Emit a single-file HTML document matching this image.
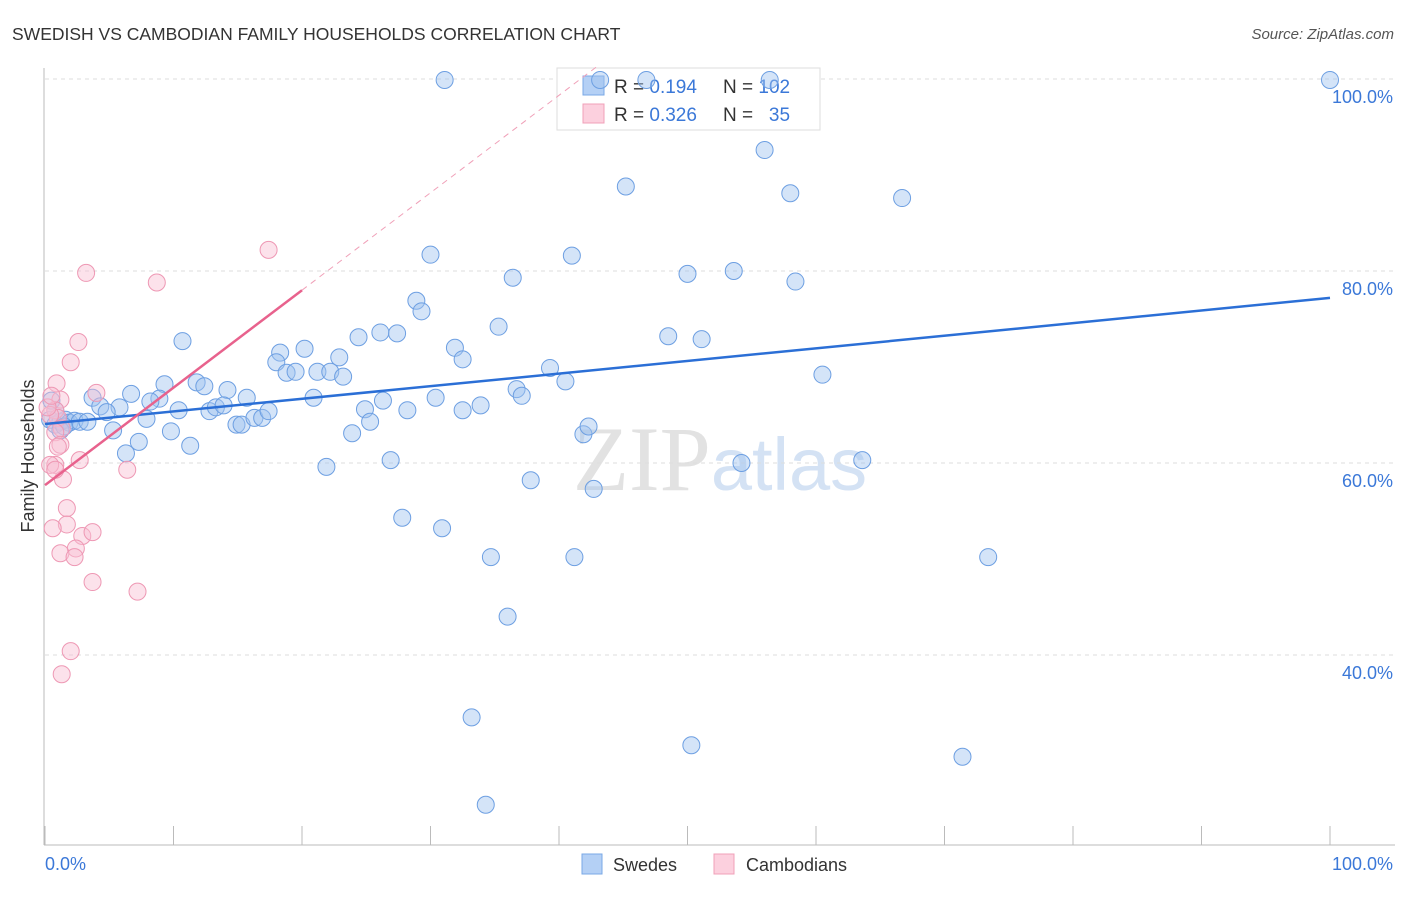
<!DOCTYPE html>
<html><head><meta charset="utf-8"><style>
body{margin:0;background:#fff;font-family:"Liberation Sans",sans-serif;}
svg text{font-family:"Liberation Sans",sans-serif;}
</style></head><body>
<svg id="chart" width="1406" height="892" xmlns="http://www.w3.org/2000/svg">
<text x="12" y="40" font-size="17.5" fill="#333">SWEDISH VS CAMBODIAN FAMILY HOUSEHOLDS CORRELATION CHART</text>
<text x="1394" y="39" font-size="15" fill="#555" font-style="italic" text-anchor="end">Source: ZipAtlas.com</text>
<text x="720" y="490" font-size="92" text-anchor="middle"><tspan fill="#e2e2e2" font-family="Liberation Serif">ZIP</tspan><tspan fill="#d4e2f4" font-size="74">atlas</tspan></text>
<g id="grid"></g>
<g id="axes"></g>
<g>
<rect x="557" y="68" width="263" height="62" fill="#fff" stroke="#ddd"/>
<rect x="583" y="76" width="21" height="19" fill="#b4d0f5" stroke="#7aa8e6"/>
<rect x="583" y="104" width="21" height="19" fill="#fcd0de" stroke="#f0a0b8"/>
<text x="614" y="93" font-size="19" fill="#333">R = <tspan fill="#3b78d8">0.194</tspan></text>
<text x="723" y="93" font-size="19" fill="#333">N = <tspan fill="#3b78d8">102</tspan></text>
<text x="614" y="121" font-size="19" fill="#333">R = <tspan fill="#3b78d8">0.326</tspan></text>
<text x="723" y="121" font-size="19" fill="#333">N = <tspan fill="#3b78d8">&#160; 35</tspan></text>
</g>
<g id="pts"></g>
<g id="trend"></g>
<text transform="translate(34,456) rotate(-90)" font-size="18" fill="#333" text-anchor="middle">Family Households</text>
<text x="45" y="870" font-size="18" fill="#3b78d8">0.0%</text>
<text x="1393" y="870" font-size="18" fill="#3b78d8" text-anchor="end">100.0%</text>
<g>
<rect x="582" y="854" width="20" height="20" fill="#b4d0f5" stroke="#7aa8e6"/>
<text x="613" y="871" font-size="18" fill="#333">Swedes</text>
<rect x="714" y="854" width="20" height="20" fill="#fcd0de" stroke="#f0a0b8"/>
<text x="746" y="871" font-size="18" fill="#333">Cambodians</text>
</g>
</svg>
<script>
const yTicks=[100,80,60,40];
const yTickLabels=["100.0%","80.0%","60.0%","40.0%"];
const xTicks=[0,10,20,30,40,50,60,70,80,90,100];
const blueX=[31.1,43.2,46.8,56.4,100,56,45.2,58,66.7,30,41,36.4,50,53.6,58.4,10.7,28.9,29.3,26.1,27.4,24.4,20.2,22.9,18.3,31.9,32.5,35.3,48.5,51.1,18,18.8,19.5,21.2,22.2,23.2,39.3,40.5,36.7,37.1,60.5,6.7,9.3,11.8,12.4,14.2,15.7,20.9,26.3,30.4,28.2,32.5,33.9,24.9,25.3,23.9,8.9,8.2,3.7,4.3,5.8,4.8,10.4,7.9,12.8,13.3,13.9,14.9,15.3,16.3,16.9,17.4,5.3,9.8,7.3,11.3,6.3,41.9,42.3,21.9,26.9,37.8,42.7,54.2,63.6,27.8,30.9,34.7,41.2,73.4,36,33.2,50.3,71.4,34.3,0.4,0.8,1.2,1.6,1.9,2.3,2.7,3.3,0.8,1.2,0.5,1.5];
const blueY=[99.9,99.9,99.9,99.9,99.9,92.6,88.8,88.1,87.6,81.7,81.6,79.3,79.7,80,78.9,72.7,76.9,75.8,73.6,73.5,73.1,71.9,71,71.5,72,70.8,74.2,73.2,72.9,70.5,69.4,69.5,69.5,69.5,69,69.9,68.5,67.7,67,69.2,67.2,68.2,68.4,68,67.6,66.8,66.8,66.5,66.8,65.5,65.5,66,65.6,64.3,63.1,66.7,66.4,66.8,65.9,65.8,65.3,65.5,64.6,65.4,65.8,66,64,64,64.7,64.7,65.4,63.4,63.3,62.2,61.8,61,63,63.8,59.6,60.3,58.2,57.3,60,60.3,54.3,53.2,50.2,50.2,50.2,44,33.5,30.6,29.4,24.4,64.5,64,64.3,64.5,64.2,64.4,64.3,64.3,65.5,63.4,66.5,63.8];
const pinkX=[17.4,3.2,8.7,2.6,2,0.9,4,1.2,0.8,1,0.4,1.3,0.8,1.2,1,0.8,2.7,6.4,1.4,1.7,1.7,0.6,2.9,3.7,2.4,1.2,2.3,3.7,7.2,2,1.3,0.4,0.8,0.2,0.5];
const pinkY=[82.2,79.8,78.8,72.6,70.5,68.3,67.3,66.6,65.5,64.7,65,63.6,63.2,61.9,61.7,59.8,60.3,59.3,58.3,55.3,53.6,53.2,52.4,52.8,51.1,50.6,50.2,47.6,46.6,40.4,38,59.8,59.3,65.8,67];
const blueTrend=[64.06,77.2];
const pinkTrend=[57.7,1.015];
const NS="http://www.w3.org/2000/svg";
const X0=45,X1=1330,YTOP=79,PXPER=9.6;
function sx(v){return X0+(X1-X0)*v/100;}
function sy(v){return YTOP+(100-v)*PXPER;}
function mk(tag,attrs,parent){const e=document.createElementNS(NS,tag);for(const k in attrs)e.setAttribute(k,attrs[k]);parent.appendChild(e);return e;}
const grid=document.getElementById('grid'),axes=document.getElementById('axes'),pts=document.getElementById('pts'),trend=document.getElementById('trend');
yTicks.forEach((t,i)=>{
 const l=mk('line',{x1:45,x2:1395,y1:sy(t),y2:sy(t),stroke:'#ddd','stroke-dasharray':'4,4'},grid);
 
 
 const tx=mk('text',{x:1393,y:sy(t)+24,'font-size':18,fill:'#3b78d8','text-anchor':'end'},grid);
 tx.textContent=yTickLabels[i];
 
 
});
const ya=mk('line',{x1:44,x2:44,y1:68,y2:845,stroke:'#bbb'},axes);


const xa=mk('line',{x1:44,x2:1395,y1:845,y2:845,stroke:'#bbb'},axes);


xTicks.forEach(t=>{
 const l=mk('line',{x1:sx(t),x2:sx(t),y1:826,y2:845,stroke:'#bbb'},axes);
 
 
});
blueX.forEach((x,i)=>{
 const c=mk('circle',{cx:sx(x),cy:sy(blueY[i]),r:8.5,fill:'rgba(160,195,240,0.45)',stroke:'#6d9fe2','stroke-width':1},pts);
 
 
});
pinkX.forEach((x,i)=>{
 const c=mk('circle',{cx:sx(x),cy:sy(pinkY[i]),r:8.5,fill:'rgba(248,190,210,0.45)',stroke:'#ee98b4','stroke-width':1},pts);
 
 
});
const bt=mk('line',{x1:sx(0),y1:sy(blueTrend[0]),x2:sx(100),y2:sy(blueTrend[1]),stroke:'#2b6fd6','stroke-width':2.5},trend);


const pt=mk('line',{x1:sx(0),y1:sy(pinkTrend[0]),x2:sx(20),y2:sy(pinkTrend[0]+20*pinkTrend[1]),stroke:'#e8628d','stroke-width':2.5},trend);


const pd=mk('line',{x1:sx(20),y1:sy(pinkTrend[0]+20*pinkTrend[1]),x2:sx(43),y2:sy(pinkTrend[0]+43*pinkTrend[1]),stroke:'#f0a0b8','stroke-width':1,'stroke-dasharray':'6,5'},trend);


</script>
</body></html>
